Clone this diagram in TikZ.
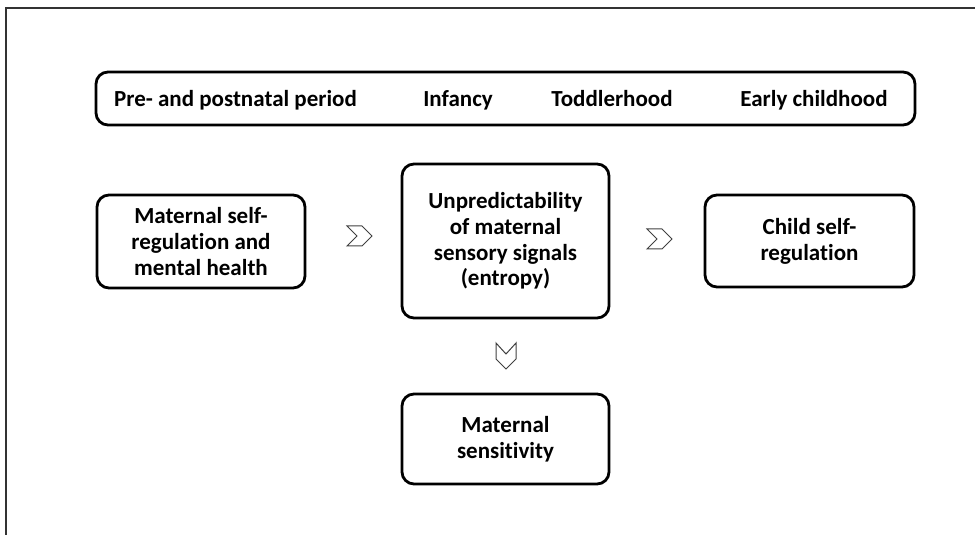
\documentclass[tikz,border=0pt]{standalone}
\usepackage{fontspec}
\setmainfont{Carlito}[Ligatures={NoCommon}]
\begin{document}
\begin{tikzpicture}[x=1pt,y=1pt,
  box/.style={draw=black,line width=2.8pt,rounded corners=12pt,align=center,
    font=\bfseries\fontsize{23}{25.8}\selectfont,inner sep=0pt},
  lbl/.style={font=\bfseries\fontsize{23}{26}\selectfont,inner sep=0pt,anchor=base},
  chev/.style={draw=black!75,line width=1pt,line join=miter}]
\useasboundingbox (0,0) rectangle (975,535);
\draw[black!80,line width=1.3pt] (6,-10) -- (6,527) -- (985,527);
% top bar
\node[box,minimum width=819pt,minimum height=53pt] (bar) at (505.5,436.5) {};
\node[lbl] (p1) at (235.5,428) {Pre- and postnatal period};
\node[lbl] (p2) at (458,428) {Infancy};
\node[lbl] (p3) at (612,428) {Toddlerhood};
\node[lbl] (p4) at (814,428) {Early childhood};
% boxes
\node[box,minimum width=208pt,minimum height=93pt] (mat) at (201,293.5)
  {Maternal self-\\regulation and\\mental health};
\node[box,minimum width=207pt,minimum height=154pt] (ent) at (505.5,294)
  {Unpredictability\\of maternal\\sensory signals\\(entropy)};
\node[box,minimum width=209pt,minimum height=92pt] (child) at (809.5,294)
  {Child self-\\regulation};
\node[box,minimum width=207pt,minimum height=90pt] (sens) at (505.5,96)
  {Maternal\\sensitivity};
% chevrons
\draw[chev] (347,309) -- (362,309) -- (372,299) -- (362,289) -- (347,289) -- (357,299) -- cycle;
\draw[chev] (647,306) -- (662,306) -- (672,296) -- (662,286) -- (647,286) -- (657,296) -- cycle;
\draw[chev] (496,192) -- (506,181) -- (516,192) -- (516,176) -- (506,166) -- (496,176) -- cycle;
\end{tikzpicture}
\end{document}
